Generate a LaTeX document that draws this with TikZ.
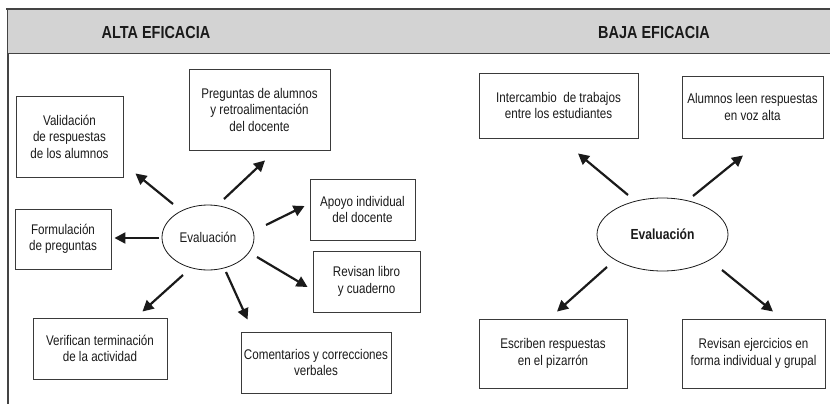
\documentclass[tikz,border=0pt]{standalone}
\usepackage{fontspec}
\setmainfont{Liberation Sans}[FakeStretch=0.83]
\usepackage{tikz}
\usetikzlibrary{arrows.meta,calc,shapes.geometric}
\definecolor{ink}{HTML}{1A1A1A}
\definecolor{edge}{HTML}{3A3A3A}
\definecolor{band}{HTML}{D3D3D3}
\definecolor{bandline}{HTML}{444444}
\tikzset{
  blk/.style={draw=edge, line width=0.9pt, fill=white, align=center, inner sep=2pt,
              font=\fontsize{14}{16.5}\selectfont, text=ink},
  evl/.style={ellipse, draw=ink, line width=0.8pt, align=center, inner sep=0pt,
              font=\fontsize{14}{16.5}\selectfont, text=ink},
  hdr/.style={font=\fontsize{17.4}{20}\selectfont\bfseries, text=ink},
  arr/.style={-{Triangle[length=11pt,width=11pt]}, line width=2.2pt, draw=ink},
}
\begin{document}
\begin{tikzpicture}[x=1pt, y=-1pt]
  \useasboundingbox (0,0) rectangle (830,407);
  % header band
  \fill[band] (7,8.5) rectangle (830,53);
  \draw[bandline, line width=2pt] (6,8.5) -- (830,8.5);
  \draw[bandline, line width=1pt] (7,8.5) -- (7,53) -- (830,53);
  \draw[bandline, line width=1.2pt] (8,53) -- (8,404);
  \node[hdr] (tAlta) at (156,32.5) {ALTA EFICACIA};
  \node[hdr] (tBaja) at (654,32.5) {BAJA EFICACIA};

  % alta eficacia
  \node[evl, minimum width=92pt, minimum height=65pt] (evalta) at (208,237.5) {Evaluación};
  \node[blk, minimum width=107pt, minimum height=81pt] (val) at (69.5,136.5) {Validación\\de respuestas\\de los alumnos};
  \node[blk, minimum width=141pt, minimum height=81pt] (preg) at (259.5,109.5) {Preguntas de alumnos\\y retroalimentación\\del docente};
  \node[blk, minimum width=105pt, minimum height=61pt] (apoyo) at (362.5,209.5) {Apoyo individual\\del docente};
  \node[blk, minimum width=107pt, minimum height=61pt] (libro) at (366.5,281.5) {Revisan libro\\y cuaderno};
  \node[blk, minimum width=96pt, minimum height=60pt] (form) at (63,239) {Formulación\\de preguntas};
  \node[blk, minimum width=134pt, minimum height=61pt] (verif) at (100,348.5) {Verifican terminación\\de la actividad};
  \node[blk, minimum width=150pt, minimum height=61pt] (coment) at (316,362.5) {Comentarios y correcciones\\verbales};

  \draw[arr] ($(evalta)+(-35,-33.5)$) -- ($(val.south east)+(12,-4)$);
  \draw[arr] ($(evalta)+(16,-38.5)$) -- ($(preg.south)+(5.5,10)$);
  \draw[arr] ($(evalta)+(58,-12.5)$) -- ($(apoyo.west)+(-5,-3.5)$);
  \draw[arr] ($(evalta)+(-49,0.5)$) -- ($(form.east)+(3,-1)$);
  \draw[arr] ($(evalta)+(49,19.5)$) -- ($(libro.west)+(-5,5.5)$);
  \draw[arr] ($(evalta)+(-25,37.5)$) -- ($(verif.north east)+(-25,-6)$);
  \draw[arr] ($(evalta)+(18,34.5)$) -- ($(coment.north west)+(7,-12)$);

  % baja eficacia
  \node[evl, minimum width=131pt, minimum height=73pt, font=\fontsize{14.6}{17}\selectfont\bfseries] (evbaja) at (662.5,234.5) {Evaluación};
  \node[blk, minimum width=159pt, minimum height=65pt] (inter) at (558.5,105.5) {Intercambio~ de trabajos\\entre los estudiantes};
  \node[blk, minimum width=141pt, minimum height=62pt] (leen) at (752.5,107) {Alumnos leen respuestas\\en voz alta};
  \node[blk, minimum width=148pt, minimum height=69pt] (escr) at (553,353.5) {Escriben respuestas\\en el pizarrón};
  \node[blk, minimum width=143pt, minimum height=69pt] (ejer) at (753.5,353.5) {Revisan ejercicios en\\forma individual y grupal};

  \draw[arr] ($(evbaja)+(-34.5,-39.5)$) -- ($(inter.south)+(19.5,15)$);
  \draw[arr] ($(evbaja)+(30.5,-38.5)$) -- ($(leen.south)+(-9.5,17)$);
  \draw[arr] ($(evbaja)+(-55.5,32.5)$) -- ($(escr.north)+(4,-7)$);
  \draw[arr] ($(evbaja)+(59.5,35.5)$) -- ($(ejer.north)+(19.5,-7)$);
\end{tikzpicture}
\end{document}
